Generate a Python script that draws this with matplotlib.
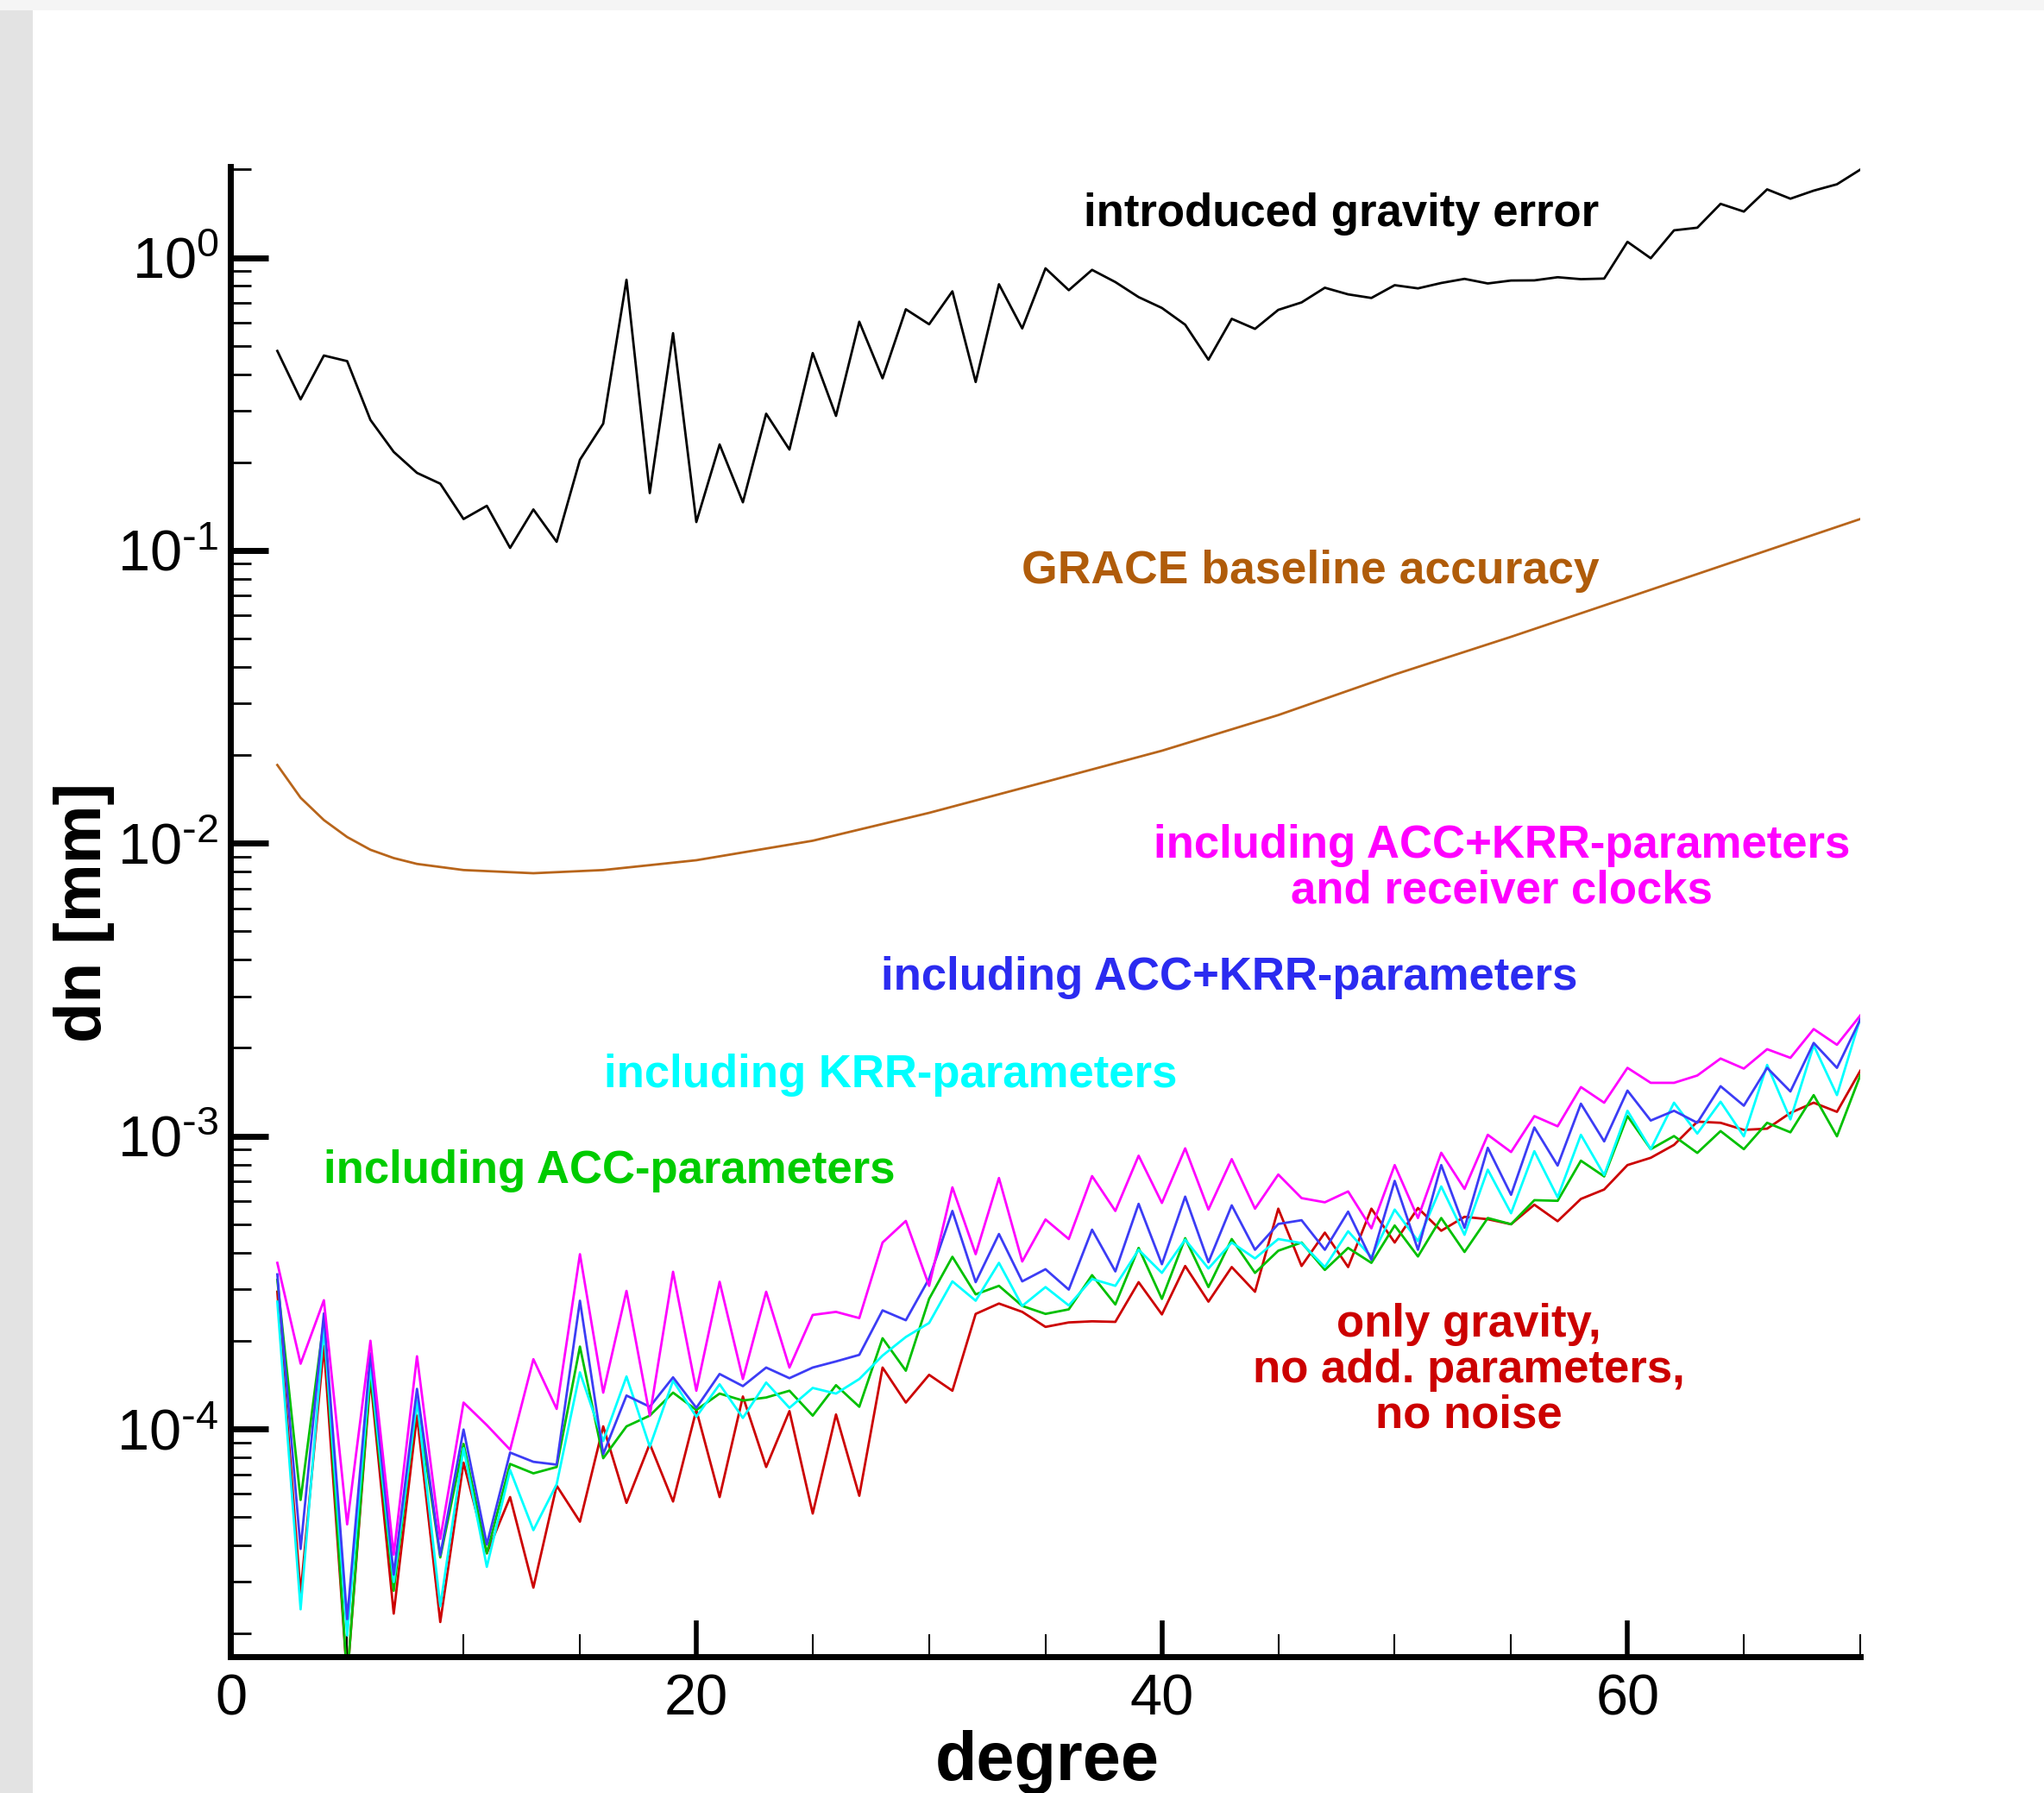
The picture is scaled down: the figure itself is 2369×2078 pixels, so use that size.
import numpy as np
import matplotlib
matplotlib.use("Agg")
import matplotlib.pyplot as plt
from matplotlib.patches import Rectangle
from matplotlib.ticker import MultipleLocator, LogLocator, NullFormatter, FuncFormatter

plt.rcParams['font.family'] = ['Liberation Sans', 'DejaVu Sans']
plt.rcParams['mathtext.default'] = 'regular'
plt.rcParams['axes.unicode_minus'] = False

# degree axis
degrees = list(range(2, 71))

# introduced gravity error (black)
grav_err = [0.48, 0.328, 0.463, 0.443, 0.279, 0.217, 0.184, 0.169, 0.128, 0.142,
            0.102, 0.138, 0.107, 0.204, 0.271, 0.84, 0.157, 0.552, 0.125, 0.230,
            0.146, 0.293, 0.221, 0.472, 0.288, 0.604, 0.387, 0.666, 0.592, 0.767,
            0.376, 0.811, 0.573, 0.919, 0.774, 0.908, 0.825, 0.733, 0.673, 0.590,
            0.448, 0.618, 0.571, 0.663, 0.703, 0.789, 0.749, 0.728, 0.805, 0.785,
            0.819, 0.846, 0.816, 0.835, 0.836, 0.857, 0.844, 0.848, 1.132, 0.995,
            1.239, 1.265, 1.526, 1.436, 1.710, 1.589, 1.693, 1.780, 1.997]

# GRACE baseline accuracy (brown), read at these degrees
grace_deg = [2, 3, 4, 5, 6, 7, 8, 10, 13, 16, 20, 25, 30, 35, 40, 45, 50, 55, 60, 65, 70]
grace_val = [0.0185, 0.0143, 0.0120, 0.0105, 0.0095, 0.0089, 0.0085, 0.0081, 0.0079, 0.0081,
             0.00875, 0.0102, 0.0127, 0.0162, 0.0207, 0.0274, 0.0377, 0.0507, 0.0690, 0.0940, 0.128]

# including ACC+KRR-parameters and receiver clocks (magenta)
clocks = [3.69e-4, 1.67e-4, 2.75e-4, 4.72e-5, 2.00e-4, 3.72e-5, 1.77e-4, 4.21e-5, 1.23e-4, 1.03e-4,
          8.49e-5, 1.73e-4, 1.17e-4, 3.95e-4, 1.33e-4, 2.96e-4, 1.11e-4, 3.44e-4, 1.35e-4, 3.18e-4,
          1.48e-4, 2.94e-4, 1.62e-4, 2.45e-4, 2.51e-4, 2.39e-4, 4.33e-4, 5.13e-4, 3.08e-4, 6.68e-4,
          3.95e-4, 7.19e-4, 3.73e-4, 5.19e-4, 4.45e-4, 7.30e-4, 5.55e-4, 8.57e-4, 5.91e-4, 9.08e-4,
          5.61e-4, 8.34e-4, 5.65e-4, 7.39e-4, 6.14e-4, 5.94e-4, 6.47e-4, 4.84e-4, 7.96e-4, 5.25e-4,
          8.77e-4, 6.60e-4, 1.01e-3, 8.82e-4, 1.17e-3, 1.08e-3, 1.47e-3, 1.30e-3, 1.71e-3, 1.52e-3,
          1.52e-3, 1.61e-3, 1.84e-3, 1.70e-3, 1.98e-3, 1.85e-3, 2.32e-3, 2.05e-3, 2.58e-3]

# including ACC+KRR-parameters (blue)
acc_krr = [3.37e-4, 3.89e-5, 2.48e-4, 2.24e-5, 1.81e-4, 3.18e-5, 1.37e-4, 3.70e-5, 9.95e-5, 4.03e-5,
           8.30e-5, 7.72e-5, 7.55e-5, 2.74e-4, 8.20e-5, 1.30e-4, 1.19e-4, 1.50e-4, 1.18e-4, 1.54e-4,
           1.40e-4, 1.62e-4, 1.49e-4, 1.62e-4, 1.70e-4, 1.79e-4, 2.54e-4, 2.35e-4, 3.26e-4, 5.55e-4,
           3.17e-4, 4.63e-4, 3.19e-4, 3.51e-4, 2.99e-4, 4.79e-4, 3.45e-4, 5.87e-4, 3.65e-4, 6.21e-4,
           3.71e-4, 5.80e-4, 4.09e-4, 5.01e-4, 5.16e-4, 4.09e-4, 5.52e-4, 3.78e-4, 7.03e-4, 4.09e-4,
           7.96e-4, 4.86e-4, 9.12e-4, 6.30e-4, 1.07e-3, 7.93e-4, 1.29e-3, 9.59e-4, 1.43e-3, 1.13e-3,
           1.22e-3, 1.11e-3, 1.48e-3, 1.27e-3, 1.71e-3, 1.42e-3, 2.08e-3, 1.71e-3, 2.50e-3]

# including KRR-parameters (cyan)
krr = [2.72e-4, 2.42e-5, 2.22e-4, 1.97e-5, 1.64e-4, 3.00e-5, 1.25e-4, 2.48e-5, 8.59e-5, 3.38e-5,
       7.24e-5, 4.51e-5, 6.47e-5, 1.56e-4, 9.09e-5, 1.51e-4, 8.69e-5, 1.46e-4, 1.10e-4, 1.42e-4,
       1.09e-4, 1.44e-4, 1.18e-4, 1.38e-4, 1.32e-4, 1.48e-4, 1.78e-4, 2.06e-4, 2.30e-4, 3.19e-4,
       2.74e-4, 3.69e-4, 2.63e-4, 3.05e-4, 2.64e-4, 3.25e-4, 3.08e-4, 4.09e-4, 3.41e-4, 4.43e-4,
       3.53e-4, 4.33e-4, 3.82e-4, 4.45e-4, 4.31e-4, 3.57e-4, 4.73e-4, 3.86e-4, 5.61e-4, 4.38e-4,
       6.73e-4, 4.60e-4, 7.68e-4, 5.45e-4, 8.88e-4, 6.18e-4, 1.01e-3, 7.36e-4, 1.22e-3, 9.02e-4,
       1.30e-3, 1.02e-3, 1.31e-3, 9.98e-4, 1.75e-3, 1.14e-3, 2.04e-3, 1.38e-3, 2.52e-3]

# including ACC-parameters (green)
acc = [3.23e-4, 5.72e-5, 2.35e-4, 1.40e-5, 1.56e-4, 2.80e-5, 1.25e-4, 3.64e-5, 8.89e-5, 3.76e-5,
       7.59e-5, 7.05e-5, 7.41e-5, 1.91e-4, 7.94e-5, 1.02e-4, 1.11e-4, 1.33e-4, 1.16e-4, 1.32e-4,
       1.25e-4, 1.28e-4, 1.35e-4, 1.11e-4, 1.41e-4, 1.19e-4, 2.04e-4, 1.58e-4, 2.78e-4, 3.87e-4,
       2.88e-4, 3.08e-4, 2.63e-4, 2.47e-4, 2.56e-4, 3.35e-4, 2.66e-4, 4.15e-4, 2.78e-4, 4.48e-4,
       3.05e-4, 4.45e-4, 3.41e-4, 4.06e-4, 4.33e-4, 3.49e-4, 4.15e-4, 3.69e-4, 4.95e-4, 3.88e-4,
       5.25e-4, 4.02e-4, 5.25e-4, 5.00e-4, 6.04e-4, 6.01e-4, 8.24e-4, 7.28e-4, 1.17e-3, 9.02e-4,
       1.00e-3, 8.76e-4, 1.04e-3, 9.02e-4, 1.11e-3, 1.03e-3, 1.38e-3, 9.98e-4, 1.61e-3]

# only gravity, no add. parameters, no noise (red)
only_grav = [2.94e-4, 2.74e-5, 1.92e-4, 1.40e-5, 1.49e-4, 2.34e-5, 1.11e-4, 2.19e-5, 7.67e-5, 3.76e-5,
             5.85e-5, 2.87e-5, 6.40e-5, 4.82e-5, 1.02e-4, 5.59e-5, 8.89e-5, 5.65e-5, 1.16e-4, 5.85e-5,
             1.29e-4, 7.41e-5, 1.15e-4, 5.14e-5, 1.12e-4, 5.91e-5, 1.62e-4, 1.23e-4, 1.53e-4, 1.35e-4,
             2.47e-4, 2.68e-4, 2.51e-4, 2.23e-4, 2.31e-4, 2.33e-4, 2.32e-4, 3.17e-4, 2.46e-4, 3.60e-4,
             2.72e-4, 3.57e-4, 2.94e-4, 5.65e-4, 3.60e-4, 4.68e-4, 3.57e-4, 5.65e-4, 4.33e-4, 5.68e-4,
             4.75e-4, 5.30e-4, 5.20e-4, 5.00e-4, 5.83e-4, 5.12e-4, 6.10e-4, 6.57e-4, 7.96e-4, 8.43e-4,
             9.33e-4, 1.12e-3, 1.11e-3, 1.05e-3, 1.06e-3, 1.20e-3, 1.30e-3, 1.21e-3, 1.67e-3]


def decade_label(v, pos):
    e = int(round(np.log10(v)))
    if e < 0:
        return r'$10^{\text{-}%d}$' % (-e)
    return r'$10^{%d}$' % e


fig = plt.figure(figsize=(23.69, 20.78), dpi=100)
fig.patch.set_facecolor('#f5f5f5')
fig.patches.append(Rectangle((38 / 2369, 0), 1, (2078 - 12) / 2078, transform=fig.transFigure,
                             facecolor='white', edgecolor='none', zorder=-10))
fig.patches.append(Rectangle((0, 0), 38 / 2369, (2078 - 12) / 2078, transform=fig.transFigure,
                             facecolor='#e3e3e3', edgecolor='none', zorder=-10))

ax = fig.add_axes([0.1129, 0.0760, 0.7972, 0.8309])
ax.set_facecolor('none')
ax.set_zorder(2)

lw = 2.0
ax.plot(degrees, grav_err, color='black', lw=lw)
ax.plot(grace_deg, grace_val, color='#b8651b', lw=lw)
ax.plot(degrees, only_grav, color='#cc0000', lw=lw)
ax.plot(degrees, acc, color='#00c000', lw=lw)
ax.plot(degrees, krr, color='#00ffff', lw=lw)
ax.plot(degrees, acc_krr, color='#3c3cf5', lw=lw)
ax.plot(degrees, clocks, color='#ff00ff', lw=lw)

ax.set_yscale('log')
ax.set_xlim(0, 70)
ax.set_ylim(1.667e-5, 2.04)

for s in ['top', 'right']:
    ax.spines[s].set_visible(False)
for s in ['left', 'bottom']:
    ax.spines[s].set_linewidth(5)
    ax.spines[s].set_zorder(5)

ax.xaxis.set_major_locator(MultipleLocator(20))
ax.xaxis.set_minor_locator(MultipleLocator(5))
ax.yaxis.set_major_locator(LogLocator(base=10, numticks=20))
ax.yaxis.set_major_formatter(FuncFormatter(decade_label))
ax.yaxis.set_minor_locator(LogLocator(base=10, subs=np.arange(2, 10), numticks=20))
ax.yaxis.set_minor_formatter(NullFormatter())

ax.tick_params(which='both', direction='in', top=False, right=False)
ax.tick_params(axis='y', which='major', length=32, width=5, labelsize=48, pad=10)
ax.tick_params(axis='y', which='minor', length=17, width=2)
ax.tick_params(axis='x', which='major', length=30, width=4, labelsize=48, pad=14)
ax.tick_params(axis='x', which='minor', length=19, width=1.5)

fig.text(0.5125, 0.0072, 'degree', fontsize=57, fontweight='bold', ha='center', va='baseline')
fig.text(0.041, 0.491, 'dn [mm]', fontsize=55, fontweight='bold', rotation=90, ha='center', va='center')

fs = 38
ax.text(47.7, 1.41, 'introduced gravity error', color='black', fontsize=fs, fontweight='bold',
        ha='center', va='center')
ax.text(46.4, 0.0849, 'GRACE baseline accuracy', color='#b05c0a', fontsize=38.5, fontweight='bold',
        ha='center', va='center')
ax.text(54.6, 8.22e-3, 'including ACC+KRR-parameters\nand receiver clocks', color='#ff00ff',
        fontsize=fs, fontweight='bold', ha='center', va='center', linespacing=1.06)
ax.text(42.9, 3.47e-3, 'including ACC+KRR-parameters', color='#2b2bf0', fontsize=fs,
        fontweight='bold', ha='center', va='center')
ax.text(28.35, 1.62e-3, 'including KRR-parameters', color='#00ffff', fontsize=fs,
        fontweight='bold', ha='center', va='center')
ax.text(16.27, 7.6e-4, 'including ACC-parameters', color='#00cc00', fontsize=fs,
        fontweight='bold', ha='center', va='center')
ax.text(53.2, 1.585e-4, 'only gravity,\nno add. parameters,\nno noise', color='#cc0000',
        fontsize=fs, fontweight='bold', ha='center', va='center', linespacing=1.07)

plt.savefig('out.png', dpi=100, facecolor=fig.get_facecolor())
